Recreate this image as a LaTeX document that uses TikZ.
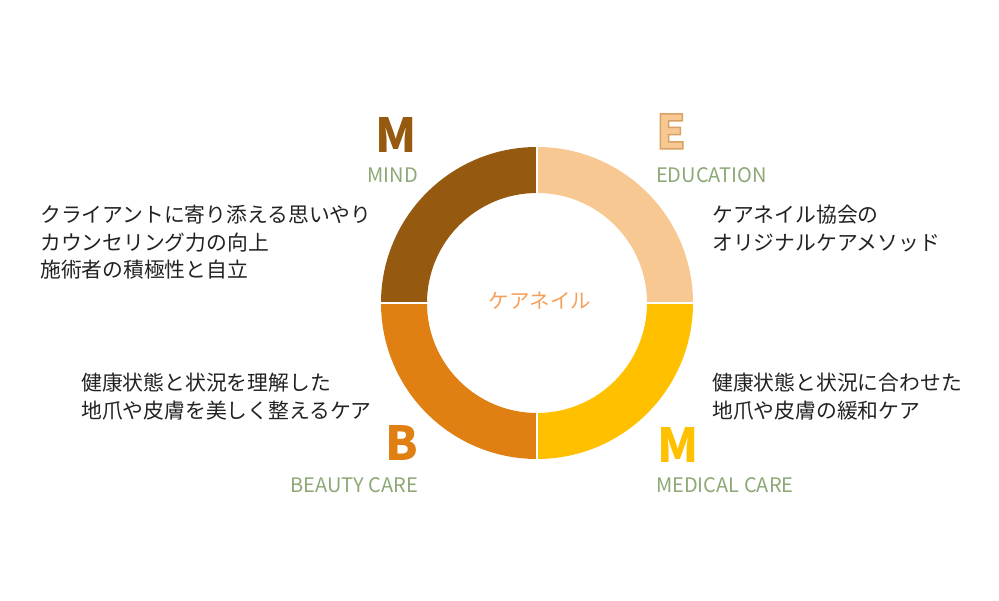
\documentclass[tikz,border=0pt]{standalone}
\usepackage{fontspec}
\setmainfont{Noto Sans CJK JP}
\usepackage{tikz}
\definecolor{mindcol}{HTML}{955A0F}
\definecolor{educol}{HTML}{F7C892}
\definecolor{medcol}{HTML}{FFC000}
\definecolor{beacol}{HTML}{E07F12}
\definecolor{labcol}{HTML}{8DA876}
\definecolor{midcol}{HTML}{F4A05C}
\definecolor{txtcol}{HTML}{222222}
\newcommand{\outlined}[1]{\special{pdf:literal direct 2 Tr 1.5 w 0.85 0.63 0.39 RG}#1\special{pdf:literal direct 0 Tr}}
\begin{document}
\begin{tikzpicture}[x=1pt,y=1pt,
	big/.style={inner sep=0,font=\fontsize{47}{47}\selectfont\bfseries},
	lab/.style={inner sep=0,text=labcol,font=\fontsize{20}{20}\selectfont},
	jp/.style={inner sep=0,text=txtcol,align=left,font=\fontsize{20.8}{27.5}\selectfont}]
	\useasboundingbox (0,0) rectangle (999,600);
	\foreach \a/\c in {90/mindcol,0/educol,270/medcol,180/beacol}{
		\fill[\c,shift={(537,297)}] (\a:156) arc[start angle=\a,end angle=\a+90,radius=156]
			-- (\a+90:110) arc[start angle=\a+90,end angle=\a,radius=110] -- cycle;
	}
	\foreach \a in {0,90,180,270}
		\draw[white,line width=1.5pt,shift={(537,297)}] (\a:109)--(\a:157);
	\node (ring) at(540,299)[inner sep=0,text=midcol,font=\fontsize{20.5}{20.5}\selectfont]{ケアネイル};
	\node (m1) at(417,447)[big,anchor=base east,text=mindcol]{M};
	\node (mind) at(418,417)[lab,anchor=base east]{MIND};
	\node (e) at(656,451)[big,anchor=base west,text=educol]{\outlined{E}};
	\node (edu) at(656,417)[lab,anchor=base west]{EDUCATION};
	\node (b) at(418,139)[big,anchor=base east,text=beacol]{B};
	\node (bea) at(418,107)[lab,anchor=base east]{BEAUTY CARE};
	\node (m2) at(657,137)[big,anchor=base west,text=medcol]{M};
	\node (med) at(656,107)[lab,anchor=base west]{MEDICAL CARE};
	\node (t1) at(40,357.5)[jp,anchor=west]{クライアントに寄り添える思いやり\\カウンセリング力の向上\\施術者の積極性と自立};
	\node (t2) at(712,371.5)[jp,anchor=west]{ケアネイル協会の\\オリジナルケアメソッド};
	\node (t3) at(81,203.5)[jp,anchor=west]{健康状態と状況を理解した\\地爪や皮膚を美しく整えるケア};
	\node (t4) at(712,203.5)[jp,anchor=west]{健康状態と状況に合わせた\\地爪や皮膚の緩和ケア};
\end{tikzpicture}
\end{document}
